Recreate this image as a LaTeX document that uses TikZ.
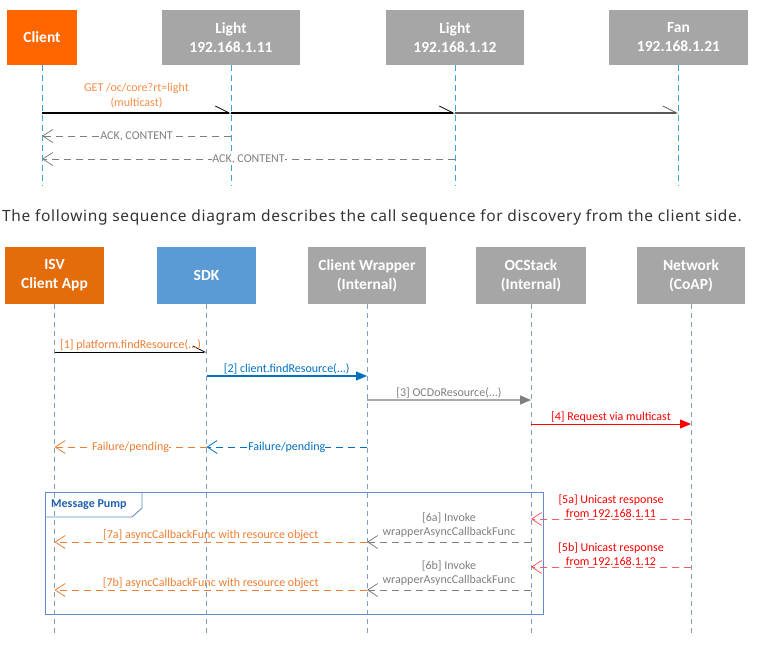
\documentclass[tikz,border=0pt]{standalone}
\usepackage{fontspec}
\setmainfont{Carlito}
\newfontfamily\docfont[LetterSpace=4.3]{Noto Sans}
\usetikzlibrary{arrows.meta}
\usetikzlibrary{positioning}

\definecolor{clientor}{RGB}{255,102,0}
\definecolor{isvor}{RGB}{228,108,10}
\definecolor{sdkblue}{RGB}{91,155,213}
\definecolor{boxgray}{RGB}{166,166,166}
\definecolor{lifeblue}{RGB}{60,165,215}
\definecolor{lifegray}{RGB}{125,160,200}
\definecolor{txtor}{RGB}{237,125,49}
\definecolor{getor}{RGB}{247,140,70}
\definecolor{txtblue}{RGB}{0,112,192}
\definecolor{txtgray}{RGB}{127,127,127}
\definecolor{linegray}{RGB}{170,170,170}
\definecolor{txtred}{RGB}{255,0,0}
\definecolor{linered}{RGB}{250,90,90}
\definecolor{pumpblue}{RGB}{100,140,200}
\definecolor{pumptxt}{RGB}{31,95,175}

\begin{document}
\begin{tikzpicture}[x=1pt,y=-1pt,
  hdr/.style={fill=boxgray,text=white,font=\fontsize{15.5}{19}\selectfont\bfseries,align=center,inner sep=0pt},
  life/.style={lifeblue,line width=0.9pt,dash pattern=on 6pt off 4pt},
  lifeb/.style={lifegray,line width=0.7pt,dash pattern=on 5pt off 4pt},
  lbl/.style={font=\fontsize{12}{14.5}\selectfont,align=center,inner sep=1pt},
  tick/.style={-{Straight Barb[harpoon,length=14pt,width=14pt,line width=0.8pt]}},
  call/.style={-{Triangle[length=11pt,width=9pt]}},
  ret/.style={line width=0.8pt,dash pattern=on 7pt off 5pt,-{Straight Barb[length=10pt,width=13pt,line width=0.8pt]}}]
\useasboundingbox (0,0) rectangle (763,658);

% top: devices found by multicast
\node[hdr,fill=clientor,minimum width=70pt,minimum height=55pt] (client) at (42,37.5) {Client};
\node[hdr,minimum width=138pt,minimum height=55pt] (light1) at (231,37.5) {Light\\192.168.1.11};
\node[hdr,minimum width=138pt,minimum height=55pt] (light2) at (455,37.5) {Light\\192.168.1.12};
\node[hdr,minimum width=139pt,minimum height=55pt] (fan) at (678.5,37.5) {Fan\\192.168.1.21};
\foreach \n in {client,light1,light2,fan}
  \draw[life] (\n.south) -- (\n |- 0,186);
\draw[line width=1.8pt,tick] (client |- 0,113) -- node[lbl,above=3pt,text=getor] {GET /oc/core?rt=light\\(multicast)} (light1 |- 0,113);
\draw[line width=1.8pt,tick] (light1 |- 0,113) -- (light2 |- 0,113);
\draw[line width=1.8pt,black!65,tick] (light2 |- 0,113) -- (fan |- 0,113);
\draw[ret,txtgray] (light1 |- 0,136) -- node[lbl,fill=white,inner sep=0pt] {ACK, CONTENT} (client |- 0,136);
\draw[ret,txtgray] (light2 |- 0,159) -- node[lbl,fill=white,inner sep=0pt] {ACK, CONTENT} (client |- 0,159);

\node[anchor=base west,inner sep=0pt,text=black!80,font=\fontsize{15.5}{18}\docfont] (caption) at (2,221) {The following sequence diagram describes the call sequence for discovery from the client side.};

% bottom: call sequence
\node[hdr,fill=isvor,minimum width=99pt,minimum height=57pt] (isv) at (54.5,275.5) {ISV\\Client App};
\node[hdr,fill=sdkblue,minimum width=99pt,minimum height=57pt] (sdk) at (206.5,275.5) {SDK};
\node[hdr,minimum width=118pt,minimum height=57pt] (wrap) at (367,275.5) {Client Wrapper\\(Internal)};
\node[hdr,minimum width=110pt,minimum height=57pt] (ocs) at (531,275.5) {OCStack\\(Internal)};
\node[hdr,minimum width=108pt,minimum height=57pt] (net) at (691,275.5) {Network\\(CoAP)};
\foreach \n in {isv,sdk,wrap,ocs,net}
  \draw[lifeb] (\n.south) -- (\n |- 0,636);

\draw[line width=0.8pt,-{Straight Barb[harpoon,length=12pt,width=12pt,line width=0.8pt]}] (isv |- 0,352) -- node[lbl,above,text=txtor] {[1] platform.findResource(...)} (sdk |- 0,352);
\draw[txtblue,line width=1.1pt,call] (sdk |- 0,376) -- node[lbl,above] {[2] client.findResource(...)} (wrap |- 0,376);
\draw[linegray,line width=1.3pt,-{Triangle[length=11pt,width=9pt,color=txtgray]}] (wrap |- 0,400) -- node[lbl,above,text=txtgray] {[3] OCDoResource(...)} (ocs |- 0,400);
\draw[txtred,line width=0.9pt,call] (ocs |- 0,424) -- node[lbl,above] {[4] Request via multicast} (net |- 0,424);
\draw[ret,txtor] (sdk |- 0,447) -- node[lbl,fill=white,inner sep=0pt] {Failure/pending} (isv |- 0,447);
\draw[ret,txtblue] (wrap |- 0,447) -- node[lbl,fill=white,inner sep=0pt] {Failure/pending} (sdk |- 0,447);

% message pump frame
\draw[pumpblue,line width=0.9pt] (45,492) rectangle (543,614);
\draw[pumpblue,line width=0.9pt] (45,517) -- (132,517) -- (142,508) -- (142,492);
\node[anchor=west,inner sep=0pt,text=pumptxt,font=\fontsize{12}{14}\selectfont\bfseries] (pump) at (51,505) {Message Pump};

\draw[ret,linered] (net |- 0,519) -- node[lbl,above,text=txtred] {[5a] Unicast response\\from 192.168.1.11} (ocs |- 0,519);
\draw[ret,txtgray] (ocs |- 0,542) -- node[lbl,above=3pt] {[6a] Invoke\\wrapperAsyncCallbackFunc} (wrap |- 0,542);
\draw[ret,txtor] (wrap |- 0,542) -- node[lbl,above] {[7a] asyncCallbackFunc with resource object} (isv |- 0,542);
\draw[ret,linered] (net |- 0,567) -- node[lbl,above,text=txtred] {[5b] Unicast response\\from 192.168.1.12} (ocs |- 0,567);
\draw[ret,txtgray] (ocs |- 0,590) -- node[lbl,above=3pt] {[6b] Invoke\\wrapperAsyncCallbackFunc} (wrap |- 0,590);
\draw[ret,txtor] (wrap |- 0,590) -- node[lbl,above] {[7b] asyncCallbackFunc with resource object} (isv |- 0,590);
\end{tikzpicture}
\end{document}
